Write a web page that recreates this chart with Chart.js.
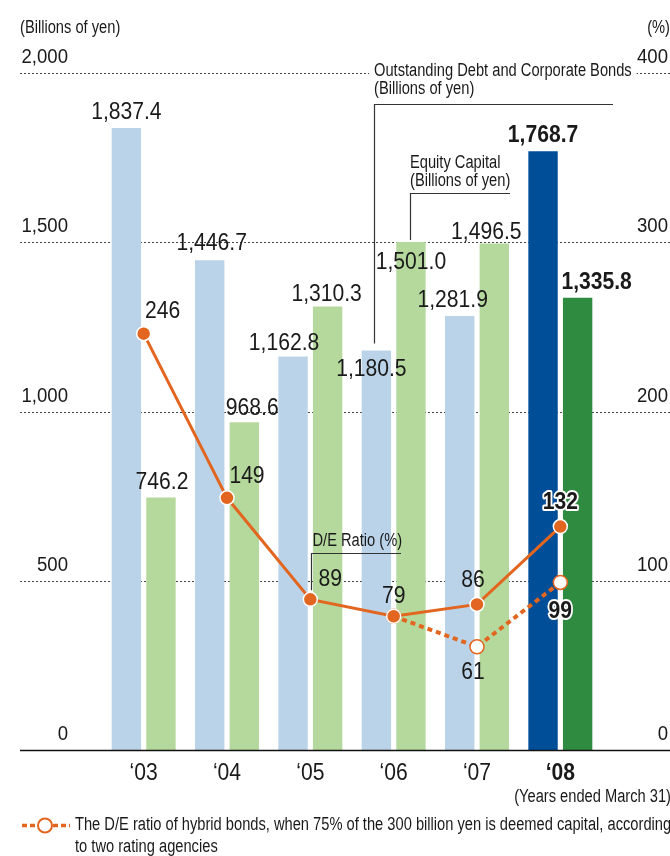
<!DOCTYPE html>
<html>
<head>
<meta charset="utf-8">
<script src="https://cdn.jsdelivr.net/npm/chart.js@4.4.1/dist/chart.umd.min.js"></script>
<style>
  html, body { margin: 0; padding: 0; background: #fff; }
  #wrap { width: 670px; height: 856px; position: relative; }
</style>
</head>
<body>
<div id="wrap"><canvas id="c" width="670" height="856"></canvas></div>
<script>
// ---- data ----
const years = ['\u201803', '\u201804', '\u201805', '\u201806', '\u201807', '\u201808'];
const debt = [1837.4, 1446.7, 1162.8, 1180.5, 1281.9, 1768.7];
const equity = [746.2, 968.6, 1310.3, 1501.0, 1496.5, 1335.8];
const deRatio = [246, 149, 89, 79, 86, 132];
const hybridRatio = [null, null, null, 79, 61, 99];
const leftTicks = { min: 0, max: 2000, step: 500 };
const rightTicks = { min: 0, max: 400, step: 100 };

// ---- styles ----
const FONT = "'Liberation Sans', Arial, sans-serif";
const TXT = '#1a1a1a';
const ORANGE = '#E2661F';
const debtColors = ['#BBD3E8', '#BBD3E8', '#BBD3E8', '#BBD3E8', '#BBD3E8', '#004E98'];
const equityColors = ['#B5D99C', '#B5D99C', '#B5D99C', '#B5D99C', '#B5D99C', '#2E8B3F'];
const lastIdx = years.length - 1;

// label nudges (pixels, relative to the mark) – layout only
const debtNudge = [[0, -16], [2, -17], [-9, -13], [-5, 19], [-7, -16], [0, -16]];
const equityNudge = [[1, -15], [8, -14], [-1, -12], [0, 20], [-8, -11], [19, -15]];
const deNudge = [[19, -22], [20, -21], [20, -20], [0, -20], [-4, -24], [0, -24]];
const hybNudge = [null, null, null, null, [-4, 26], [0, 29]];

const NUM = { size: 24, sx: 0.88 };
const TICK = { size: 20, sx: 0.93 };
const NOTE = { size: 18, sx: 0.815 };

const fmt1 = new Intl.NumberFormat('en-US', { minimumFractionDigits: 1, maximumFractionDigits: 1 });
const fmt0 = new Intl.NumberFormat('en-US');

function txt(ctx, s, x, y, st, opts = {}) {
  ctx.save();
  ctx.font = (opts.bold ? 'bold ' : '') + st.size + 'px ' + FONT;
  const align = opts.align || 'center';
  ctx.textAlign = align;
  ctx.textBaseline = 'middle';
  ctx.translate(x, y);
  ctx.scale(st.sx, 1);
  if (opts.bg) {
    const w = ctx.measureText(s).width;
    let x0 = 0;
    if (align === 'center') x0 = -w / 2;
    else if (align === 'right') x0 = -w;
    ctx.fillStyle = '#fff';
    ctx.fillRect(x0 - 6, -st.size * 0.55, w + 12, st.size * 1.1);
  }
  if (opts.halo) {
    ctx.strokeStyle = '#fff';
    ctx.lineWidth = 4;
    ctx.lineJoin = 'round';
    ctx.strokeText(s, 0, 0);
  }
  ctx.fillStyle = opts.color || TXT;
  ctx.fillText(s, 0, 0);
  ctx.restore();
}

const gridPlugin = {
  id: 'gridExt',
  beforeDatasetsDraw(chart) {
    const ctx = chart.ctx;
    const y = chart.scales.y;
    ctx.save();
    ctx.strokeStyle = '#444';
    ctx.lineWidth = 1;
    ctx.setLineDash([2, 2]);
    y.ticks.forEach(t => {
      if (t.value === 0) return;
      const py = Math.round(y.getPixelForValue(t.value)) + 0.5;
      ctx.beginPath();
      ctx.moveTo(20, py);
      ctx.lineTo(670, py);
      ctx.stroke();
    });
    ctx.restore();
  },
  afterDatasetsDraw(chart) {
    const ctx = chart.ctx;
    const y = chart.scales.y, y1 = chart.scales.y1, x = chart.scales.x;
    // base axis line
    const p0 = Math.round(y.getPixelForValue(0)) + 0.5;
    ctx.save();
    ctx.strokeStyle = '#111';
    ctx.lineWidth = 1.5;
    ctx.beginPath();
    ctx.moveTo(20, p0);
    ctx.lineTo(670, p0);
    ctx.stroke();
    ctx.restore();

    // axis tick labels (from the library's scales)
    y.ticks.forEach(t => {
      txt(ctx, fmt0.format(t.value), y.right - 34, y.getPixelForValue(t.value) - 15.5, TICK, { align: 'right' });
    });
    y1.ticks.forEach(t => {
      txt(ctx, fmt0.format(t.value), y1.right, y1.getPixelForValue(t.value) - 15.5, TICK, { align: 'right' });
    });
    years.forEach((lab, i) => {
      txt(ctx, lab, x.getPixelForValue(i), x.top + 23, NUM, { bold: i === lastIdx });
    });

    const mDebt = chart.getDatasetMeta(0).data;
    const mEq = chart.getDatasetMeta(1).data;
    const mDE = chart.getDatasetMeta(2).data;
    const mHy = chart.getDatasetMeta(3).data;

    // bar value labels
    mDebt.forEach((el, i) => {
      const b = i === lastIdx;
      txt(ctx, fmt1.format(debt[i]), el.x + debtNudge[i][0], el.y + debtNudge[i][1], NUM, { bold: b, halo: b });
    });
    mEq.forEach((el, i) => {
      const b = i === lastIdx;
      txt(ctx, fmt1.format(equity[i]), el.x + equityNudge[i][0], el.y + equityNudge[i][1], NUM, { bold: b, halo: b });
    });
    // ratio labels
    mDE.forEach((el, i) => {
      const b = i === lastIdx;
      txt(ctx, String(deRatio[i]), el.x + deNudge[i][0], el.y + deNudge[i][1], NUM, { bold: b, halo: b });
    });
    mHy.forEach((el, i) => {
      if (!hybNudge[i] || hybridRatio[i] == null) return;
      const b = i === lastIdx;
      txt(ctx, String(hybridRatio[i]), el.x + hybNudge[i][0], el.y + hybNudge[i][1], NUM, { bold: b, halo: b });
    });

    // annotations with brackets
    ctx.save();
    ctx.strokeStyle = '#333';
    ctx.lineWidth = 1.2;
    ctx.setLineDash([]);
    const d6 = mDebt[3];
    const bx = Math.round(d6.x - 2) + 0.5;
    ctx.beginPath();
    ctx.moveTo(bx, d6.y - 7);
    ctx.lineTo(bx, 104.5);
    ctx.lineTo(613, 104.5);
    ctx.stroke();
    const e6 = mEq[3];
    const ex = Math.round(e6.x - 1) + 0.5;
    ctx.beginPath();
    ctx.moveTo(ex, e6.y - 2);
    ctx.lineTo(ex, 193.5);
    ctx.lineTo(510, 193.5);
    ctx.stroke();
    const r5 = mDE[2];
    const rx = Math.round(r5.x + 1) + 0.5;
    ctx.beginPath();
    ctx.moveTo(rx, r5.y - 9);
    ctx.lineTo(rx, 553.5);
    ctx.lineTo(401, 553.5);
    ctx.stroke();
    ctx.restore();

    txt(ctx, 'Outstanding Debt and Corporate Bonds', bx - 0.5, 71, NOTE, { align: 'left', bg: true });
    txt(ctx, '(Billions of yen)', bx - 0.5, 89, NOTE, { align: 'left' });
    txt(ctx, 'Equity Capital', ex - 0.5, 163, NOTE, { align: 'left' });
    txt(ctx, '(Billions of yen)', ex - 0.5, 181, NOTE, { align: 'left' });
    txt(ctx, 'D/E Ratio (%)', rx + 1, 541, NOTE, { align: 'left' });

    // units & notes
    txt(ctx, '(Billions of yen)', 20, 28, NOTE, { align: 'left' });
    txt(ctx, '(%)', 670, 28, NOTE, { align: 'right' });
    txt(ctx, '(Years ended March 31)', 671, 797, NOTE, { align: 'right' });

    // legend
    ctx.save();
    ctx.strokeStyle = ORANGE;
    ctx.lineWidth = 3.5;
    ctx.setLineDash([5, 3]);
    ctx.beginPath();
    ctx.moveTo(22, 825.5);
    ctx.lineTo(37, 825.5);
    ctx.moveTo(53, 825.5);
    ctx.lineTo(70, 825.5);
    ctx.stroke();
    ctx.setLineDash([]);
    ctx.lineWidth = 2;
    ctx.fillStyle = '#fff';
    ctx.beginPath();
    ctx.arc(45, 825.5, 7, 0, Math.PI * 2);
    ctx.fill();
    ctx.stroke();
    ctx.restore();
    txt(ctx, 'The D/E ratio of hybrid bonds, when 75% of the 300 billion yen is deemed capital, according', 75, 825, NOTE, { align: 'left' });
    txt(ctx, 'to two rating agencies', 75, 847, NOTE, { align: 'left' });
  }
};

new Chart(document.getElementById('c'), {
  type: 'bar',
  data: {
    labels: years,
    datasets: [
      { label: 'Outstanding Debt and Corporate Bonds', data: debt, backgroundColor: debtColors, yAxisID: 'y', order: 3,
        categoryPercentage: 0.83, barPercentage: 0.85 },
      { label: 'Equity Capital', data: equity, backgroundColor: equityColors, yAxisID: 'y', order: 3,
        categoryPercentage: 0.83, barPercentage: 0.85 },
      { type: 'line', label: 'D/E Ratio (%)', data: deRatio, yAxisID: 'y1', order: 0,
        borderColor: ORANGE, borderWidth: 3, tension: 0,
        pointRadius: 7, pointBackgroundColor: ORANGE, pointBorderColor: '#fff', pointBorderWidth: 1.5 },
      { type: 'line', label: 'Hybrid D/E Ratio (%)', data: hybridRatio, yAxisID: 'y1', order: 1,
        borderColor: ORANGE, borderWidth: 4, borderDash: [5, 4], tension: 0,
        pointRadius: 7, pointBackgroundColor: '#fff', pointBorderColor: ORANGE, pointBorderWidth: 1.5 }
    ]
  },
  options: {
    responsive: false,
    animation: false,
    devicePixelRatio: 1,
    layout: { padding: { left: 20, right: 2, top: 73, bottom: 66 } },
    plugins: { legend: { display: false }, tooltip: { enabled: false } },
    scales: {
      x: {
        grid: { display: false, drawTicks: false },
        border: { display: false },
        ticks: { display: false },
        afterFit(s) { s.height = 40; }
      },
      y: {
        position: 'left',
        min: leftTicks.min, max: leftTicks.max,
        grid: { display: false, drawTicks: false },
        border: { display: false },
        ticks: { display: false, stepSize: leftTicks.step },
        afterFit(s) { s.width = 82; }
      },
      y1: {
        position: 'right',
        min: rightTicks.min, max: rightTicks.max,
        grid: { display: false, drawTicks: false },
        border: { display: false },
        ticks: { display: false, stepSize: rightTicks.step },
        afterFit(s) { s.width = 66; }
      }
    }
  },
  plugins: [gridPlugin]
});
</script>
</body>
</html>
